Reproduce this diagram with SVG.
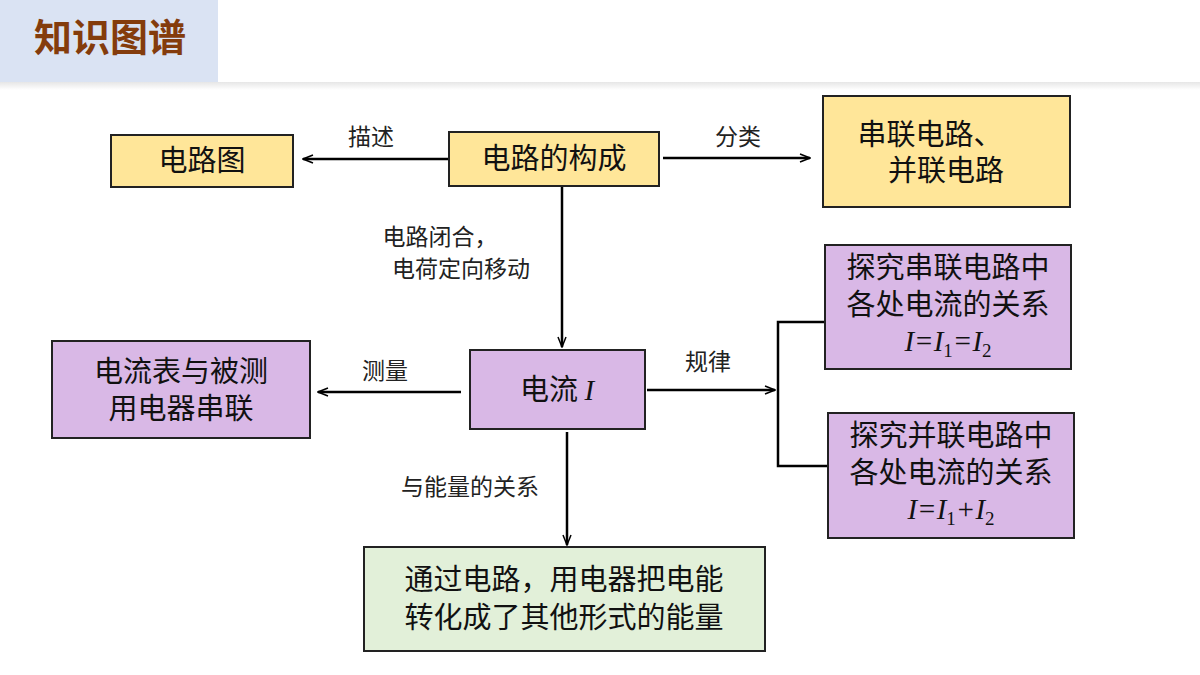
<svg xmlns="http://www.w3.org/2000/svg" width="1200" height="675" viewBox="0 0 1200 675">
<defs>
<marker id="ar" markerWidth="12" markerHeight="10" refX="11" refY="5" orient="auto" markerUnits="userSpaceOnUse"><path d="M1,1 L11,5 L1,9" fill="none" stroke="#000" stroke-width="1.5"/></marker>
<linearGradient id="sh" x1="0" y1="0" x2="0" y2="1"><stop offset="0" stop-color="#e6e6e6"/><stop offset="1" stop-color="#fff"/></linearGradient>
</defs>
<style>
.n{stroke:#222;stroke-width:2}
.y{fill:#ffe699}.p{fill:#d9b8e6}.g{fill:#e2f0d9}
text{font-family:"Noto Sans CJK SC","Noto Sans",sans-serif;fill:#111}
.t{font-size:29px;text-anchor:middle}
.l{font-size:23px;text-anchor:middle;fill:#222}
.m{font-family:"Liberation Serif",serif;font-style:italic}
.s{font-style:normal;font-size:19px}
.c{stroke:#000;stroke-width:2.5;fill:none}
</style>
<rect width="1200" height="675" fill="#fff"/>
<rect x="0" y="82" width="1200" height="8" fill="url(#sh)"/>
<rect x="0" y="0" width="218" height="82" fill="#dae3f3"/>
<text x="110" y="51" font-size="38" font-weight="bold" text-anchor="middle" style="fill:#843c0c">知识图谱</text>
<g id="connectors">
<path class="c" d="M449,159 H303" marker-end="url(#ar)"/>
<path class="c" d="M663,158 H810" marker-end="url(#ar)"/>
<path class="c" d="M562,186 V347" marker-end="url(#ar)"/>
<path class="c" d="M461,392 H318" marker-end="url(#ar)"/>
<path class="c" d="M647,390 H775" marker-end="url(#ar)"/>
<path class="c" d="M825,322 H778 V466 H828"/>
<path class="c" d="M567,432 V545" marker-end="url(#ar)"/>
<text class="l" x="371" y="145">描述</text>
<text class="l" x="738" y="145">分类</text>
<text class="l" x="440" y="245">电路闭合，</text>
<text class="l" x="461" y="277">电荷定向移动</text>
<text class="l" x="385" y="379">测量</text>
<text class="l" x="708" y="370">规律</text>
<text class="l" x="470" y="495">与能量的关系</text>
</g>
<g id="n1"><rect class="n y" x="111" y="135" width="182" height="52"/><text class="t" x="202" y="171">电路图</text></g>
<g id="n2"><rect class="n y" x="449" y="132" width="210" height="54"/><text class="t" x="554" y="169">电路的构成</text></g>
<g id="n3"><rect class="n y" x="823" y="96" width="247" height="111"/><text class="t" x="930" y="145">串联电路、</text><text class="t" x="946" y="181">并联电路</text></g>
<g id="n4"><rect class="n p" x="470" y="350" width="175" height="79"/><text class="t" x="557" y="400">电流 <tspan class="m">I</tspan></text></g>
<g id="n5"><rect class="n p" x="52" y="341" width="258" height="97"/><text class="t" x="181" y="382">电流表与被测</text><text class="t" x="181" y="419">用电器串联</text></g>
<g id="n6"><rect class="n p" x="825" y="245" width="246" height="124"/><text class="t" x="948" y="278">探究串联电路中</text><text class="t" x="948" y="315">各处电流的关系</text><text class="t m" x="948" y="351">I=I<tspan class="s" dy="6">1</tspan><tspan dy="-6">=I</tspan><tspan class="s" dy="6">2</tspan></text></g>
<g id="n7"><rect class="n p" x="828" y="413" width="246" height="125"/><text class="t" x="951" y="446">探究并联电路中</text><text class="t" x="951" y="483">各处电流的关系</text><text class="t m" x="951" y="519">I=I<tspan class="s" dy="6">1</tspan><tspan dy="-6">+I</tspan><tspan class="s" dy="6">2</tspan></text></g>
<g id="n8"><rect class="n g" x="364" y="547" width="401" height="104"/><text class="t" x="564" y="590">通过电路，用电器把电能</text><text class="t" x="564" y="628">转化成了其他形式的能量</text></g>
</svg>
